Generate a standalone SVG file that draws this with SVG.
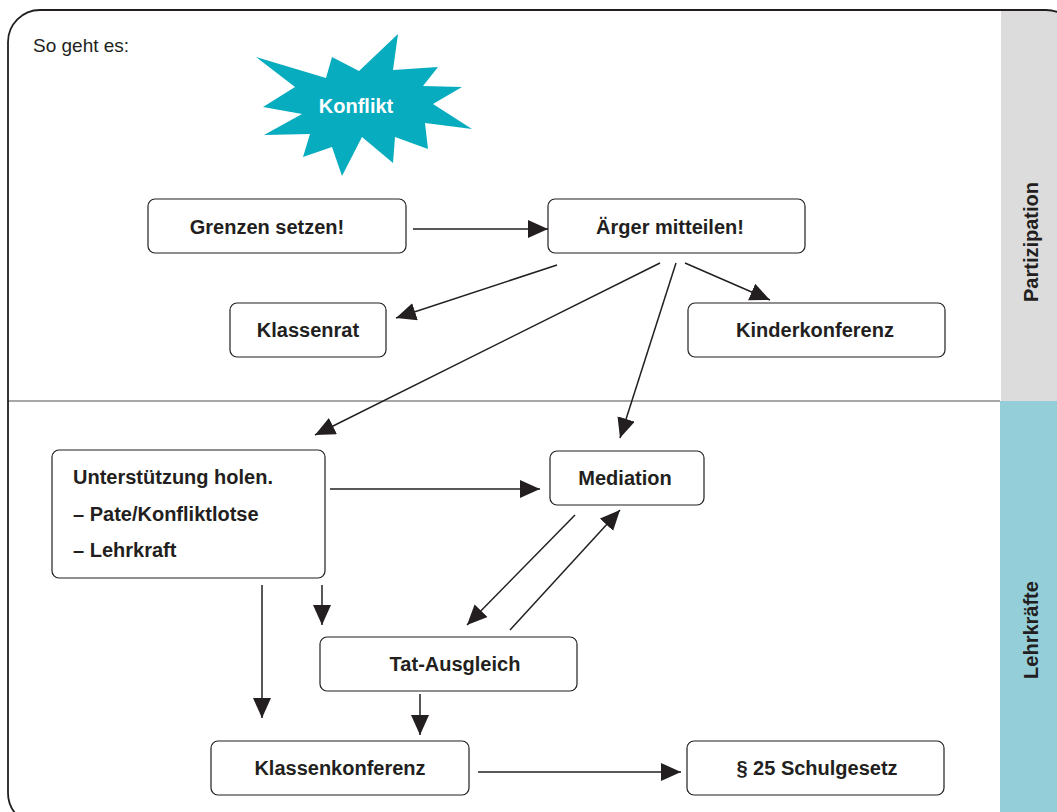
<svg xmlns="http://www.w3.org/2000/svg" width="1057" height="812" viewBox="0 0 1057 812">
<defs>
<style>
.box{fill:#fff;stroke:#231f20;stroke-width:1.2}
.t{font-family:"Liberation Sans",Arial,sans-serif;font-weight:bold;font-size:20px;fill:#231f20}
.c{text-anchor:middle}
.ln{stroke:#231f20;stroke-width:1.5;fill:none;marker-end:url(#ah)}
</style>
<marker id="ah" markerUnits="userSpaceOnUse" markerWidth="22" markerHeight="20" refX="20" refY="9" orient="auto">
<path d="M0,0 L20,9 L0,18 Z" fill="#231f20"/>
</marker>
</defs>
<rect x="0" y="0" width="1057" height="812" fill="#fff"/>
<g id="panels">
<rect x="1001" y="10" width="56" height="391" fill="#dcdcdd"/>
<rect x="1000" y="401" width="57" height="411" fill="#94ced9"/>
<line x1="8" y1="401" x2="1000" y2="401" stroke="#8a8a8a" stroke-width="1.5"/>
<rect x="8" y="10" width="1070" height="815" rx="32" fill="none" stroke="#231f20" stroke-width="1.8"/>
<text class="t c" font-size="20" transform="translate(1038,242) rotate(-90)">Partizipation</text>
<text class="t c" font-size="20" transform="translate(1038,630) rotate(-90)">Lehrkräfte</text>
</g>
<text x="33" y="52" font-family="'Liberation Sans',Arial,sans-serif" font-size="19" fill="#231f20">So geht es:</text>
<g id="konflikt">
<polygon points="398,34 393,70 438,67 423,86 462,87 433,104 472,129 425,123 428,149 395,137 393,163 362,137 342,176 332,147 303,157 310,134 264,135 302,114 263,107 295,87 256,57 326,78 332,57 359,71" fill="#08acbf"/>
<text class="t c" x="356" y="113" font-size="20" style="fill:#fff">Konflikt</text>
</g>
<g id="connectors">
<line class="ln" x1="413" y1="229" x2="548" y2="229"/>
<line class="ln" x1="557" y1="265" x2="396" y2="318"/>
<line class="ln" x1="685" y1="263" x2="770" y2="300"/>
<line class="ln" x1="660" y1="263" x2="315" y2="435"/>
<line class="ln" x1="676" y1="263" x2="620" y2="438"/>
<line class="ln" x1="330" y1="489" x2="540" y2="489"/>
<line class="ln" x1="575" y1="515" x2="467" y2="625"/>
<line class="ln" x1="510" y1="630" x2="620" y2="510"/>
<line class="ln" x1="262" y1="585" x2="262" y2="718"/>
<line class="ln" x1="322" y1="585" x2="322" y2="625"/>
<line class="ln" x1="420" y1="694" x2="420" y2="735"/>
<line class="ln" x1="478" y1="772" x2="681" y2="772"/>
</g>
<g id="grenzen"><rect class="box" x="148" y="199" width="258" height="54" rx="7"/><text class="t c" x="267" y="234">Grenzen setzen!</text></g>
<g id="aerger"><rect class="box" x="548" y="199" width="257" height="54" rx="7"/><text class="t c" x="670" y="234">Ärger mitteilen!</text></g>
<g id="klassenrat"><rect class="box" x="230" y="303" width="156" height="54" rx="7"/><text class="t c" x="308" y="337">Klassenrat</text></g>
<g id="kinderkonferenz"><rect class="box" x="688" y="303" width="257" height="54" rx="7"/><text class="t c" x="815" y="337">Kinderkonferenz</text></g>
<g id="unterstuetzung"><rect class="box" x="52" y="450" width="273" height="128" rx="7"/>
<text class="t" x="73" y="484">Unterstützung holen.</text>
<text class="t" x="73" y="521">– Pate/Konfliktlotse</text>
<text class="t" x="73" y="557">– Lehrkraft</text></g>
<g id="mediation"><rect class="box" x="550" y="451" width="154" height="54" rx="7"/><text class="t c" x="625" y="485">Mediation</text></g>
<g id="tatausgleich"><rect class="box" x="320" y="637" width="257" height="54" rx="7"/><text class="t c" x="455" y="671">Tat-Ausgleich</text></g>
<g id="klassenkonferenz"><rect class="box" x="211" y="741" width="258" height="54" rx="7"/><text class="t c" x="340" y="775">Klassenkonferenz</text></g>
<g id="schulgesetz"><rect class="box" x="687" y="741" width="257" height="54" rx="7"/><text class="t c" x="817" y="775">§ 25 Schulgesetz</text></g>
</svg>
